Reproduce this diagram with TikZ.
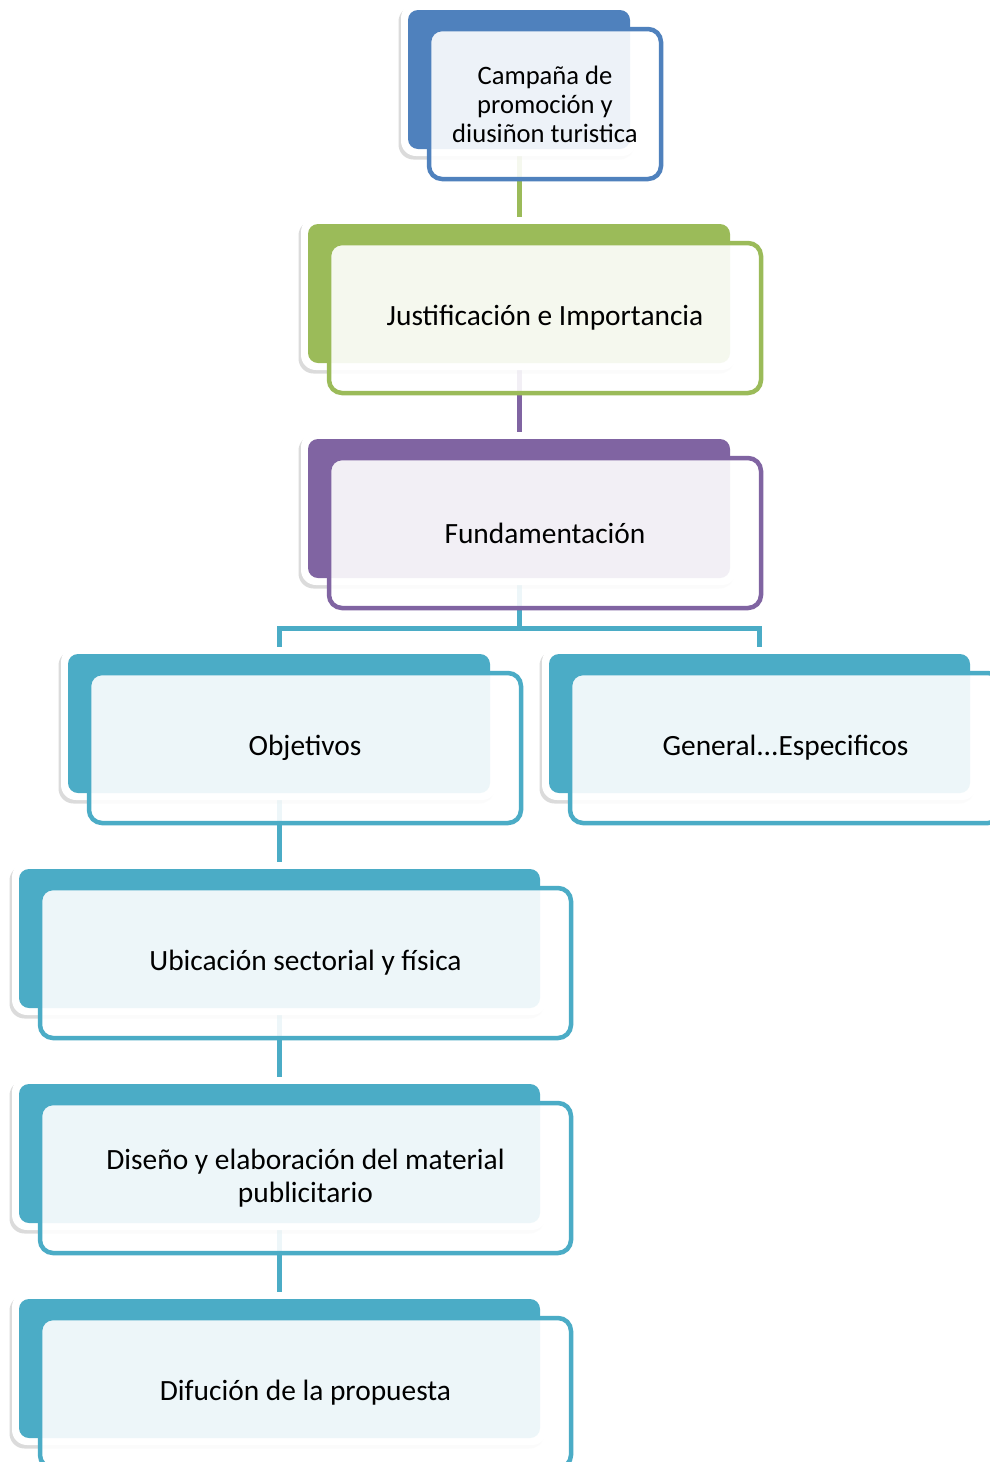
\documentclass[tikz,border=0pt]{standalone}
\usepackage{fontspec}
\setmainfont{Carlito}
\usetikzlibrary{backgrounds,shadows}
\definecolor{cblue}{HTML}{4F81BD}
\definecolor{cgreen}{HTML}{9BBB59}
\definecolor{cpurple}{HTML}{8064A2}
\definecolor{cteal}{HTML}{4BACC6}
\tikzset{
  frame/.style={fill=white, rounded corners=15pt, minimum height=153pt, inner sep=0pt, outer sep=0pt,
    drop shadow={shadow xshift=-2.5pt, shadow yshift=-3.5pt, opacity=0.14, fill=black}},
  backbox/.style={rounded corners=10pt, minimum height=139pt, inner sep=0pt, outer sep=0pt},
  frontbox/.style={fill=white, fill opacity=0.9, text opacity=1, line width=4.5pt, rounded corners=13pt,
    minimum height=150pt, inner sep=0pt, outer sep=0pt, align=center, text=black,
    font=\fontsize{29.4}{32.5}\selectfont},
  smalltext/.style={font=\fontsize{26.6}{29}\selectfont},
  conn/.style={line width=5pt}
}
\newcommand\smunit[7][]{%
  \node[frame, minimum width=#6pt+14pt, anchor=north west] (#2w) at (#4-7,#5-7) {};
  \node[backbox, fill=#3, minimum width=#6pt, anchor=north west] (#2b) at (#4,#5) {};
  \node[frontbox, draw=#3, minimum width=#6pt+10pt, anchor=north west, #1] (#2) at (#4+21,#5+19) {#7};
}
\begin{document}
\begin{tikzpicture}[x=1pt,y=-1pt]
\useasboundingbox (0,0) rectangle (990,1462);
\smunit[smalltext]{u1}{cblue}{408}{10}{222}{Campaña de\\promoción y\\diusiñon turistica}
\smunit{u2}{cgreen}{308}{224}{422}{Justificación e Importancia}
\smunit{u3}{cpurple}{308}{439}{422}{Fundamentación}
\smunit{u4}{cteal}{68}{654}{422}{Objetivos}
\smunit{u5}{cteal}{549}{654}{421}{General...Especificos}
\smunit{u6}{cteal}{19}{869}{521}{Ubicación sectorial y física}
\smunit{u7}{cteal}{19}{1084}{521}{Diseño y elaboración del material\\publicitario}
\smunit{u8}{cteal}{19}{1299}{521}{Difución de la propuesta}
\coordinate (bus) at (0,628);
\begin{scope}[on background layer]
  \fill[white] (0,0) rectangle (990,1462);
  \draw[conn, cgreen] (u1b.center) -- (u2b.center);
  \draw[conn, cpurple] (u2b.center) -- (u3b.center);
  \draw[conn, cteal] (u3b.center) -- (u3b.center |- bus) -| (u4b.center);
  \draw[conn, cteal] (u3b.center |- bus) -| (u5b.center);
  \draw[conn, cteal] (u4b.center) -- (u4b.center |- u6b.center);
  \draw[conn, cteal] (u6b.center) -- (u7b.center);
  \draw[conn, cteal] (u7b.center) -- (u8b.center);
\end{scope}
\end{tikzpicture}
\end{document}
